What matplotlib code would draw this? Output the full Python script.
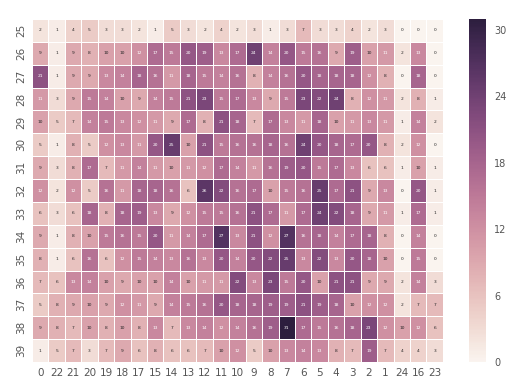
import numpy as np
import matplotlib
matplotlib.use("Agg")
import matplotlib.pyplot as plt
import seaborn as sns

col_labels = ["0", "22", "21", "20", "19", "18", "17", "15", "14", "13", "12", "11", "10",
              "9", "8", "7", "6", "5", "4", "3", "2", "1", "24", "16", "23"]
row_labels = ["25", "26", "27", "28", "29", "30", "31", "32", "33", "34", "35", "36", "37", "38", "39"]

r25 = [2, 1, 4, 5, 3, 3, 2, 1, 5, 3, 2, 4, 2, 3, 1, 3, 7, 3, 3, 4, 2, 3, 0, 0, 0]
r26 = [9, 1, 9, 8, 10, 10, 12, 17, 15, 20, 19, 13, 17, 24, 14, 20, 15, 16, 9, 19, 10, 11, 2, 13, 0]
r27 = [21, 1, 9, 9, 13, 14, 18, 16, 11, 18, 15, 14, 16, 8, 14, 16, 20, 18, 18, 18, 12, 8, 0, 18, 0]
r28 = [11, 3, 9, 15, 14, 10, 9, 14, 15, 21, 23, 15, 17, 13, 9, 15, 23, 22, 24, 8, 12, 11, 2, 8, 1]
r29 = [10, 5, 7, 14, 15, 13, 12, 11, 9, 17, 8, 21, 18, 7, 17, 13, 11, 18, 10, 11, 13, 11, 1, 14, 2]
r30 = [5, 1, 8, 5, 12, 13, 11, 20, 25, 10, 21, 15, 16, 16, 18, 16, 24, 20, 18, 17, 20, 8, 2, 12, 0]
r31 = [9, 3, 8, 17, 7, 11, 14, 11, 10, 11, 12, 17, 14, 11, 16, 19, 20, 15, 17, 13, 6, 6, 1, 10, 1]
r32 = [12, 2, 12, 5, 16, 11, 18, 18, 16, 6, 26, 22, 16, 17, 10, 15, 16, 25, 17, 21, 9, 13, 0, 20, 1]
r33 = [6, 3, 6, 18, 8, 18, 19, 13, 9, 12, 15, 15, 16, 21, 17, 11, 17, 24, 22, 18, 9, 11, 1, 17, 1]
r34 = [9, 1, 8, 10, 15, 16, 15, 20, 11, 14, 17, 27, 13, 21, 12, 27, 16, 18, 14, 17, 18, 8, 0, 14, 0]
r35 = [8, 1, 6, 16, 6, 12, 15, 14, 13, 16, 13, 20, 14, 20, 22, 25, 13, 22, 13, 20, 18, 10, 0, 15, 0]
r36 = [7, 6, 13, 14, 10, 9, 10, 10, 14, 10, 11, 11, 22, 13, 23, 15, 20, 10, 21, 21, 9, 9, 2, 14, 3]
r37 = [5, 8, 9, 10, 9, 12, 11, 9, 14, 15, 16, 20, 18, 18, 19, 19, 21, 19, 18, 10, 12, 12, 2, 7, 7]
r38 = [9, 8, 7, 10, 8, 10, 8, 13, 7, 13, 14, 12, 14, 16, 19, 31, 17, 15, 16, 18, 23, 12, 10, 12, 6]
r39 = [1, 5, 7, 3, 7, 9, 6, 8, 6, 6, 7, 10, 12, 5, 10, 13, 14, 13, 8, 7, 19, 7, 4, 4, 3]

data = np.array([r25, r26, r27, r28, r29, r30, r31, r32, r33, r34, r35, r36, r37, r38, r39])

fig = plt.figure(figsize=(5.12, 3.92), dpi=100)
ax = fig.add_axes([0.0625, 0.0765, 0.8025, 0.875])
cax = fig.add_axes([0.916, 0.0765, 0.033, 0.875])

cmap = sns.cubehelix_palette(light=0.96, dark=0.15, as_cmap=True)
sns.heatmap(data, ax=ax, cbar_ax=cax, cmap=cmap, vmin=0, vmax=31,
            annot=True, fmt="d", annot_kws={"size": 3.2},
            linewidths=0.5, linecolor="white",
            xticklabels=col_labels, yticklabels=row_labels,
            cbar_kws={"ticks": [0, 6, 12, 18, 24, 30]})

ax.tick_params(axis="both", length=0, colors="#555555", labelsize=7.5, pad=4)
ax.set_yticklabels(row_labels, rotation=90, va="center")
ax.set_xticklabels(col_labels, rotation=0)
cax.tick_params(length=0, colors="#555555", labelsize=7, pad=6)
for sp in cax.spines.values():
    sp.set_visible(False)

fig.savefig("out.png", dpi=100)
